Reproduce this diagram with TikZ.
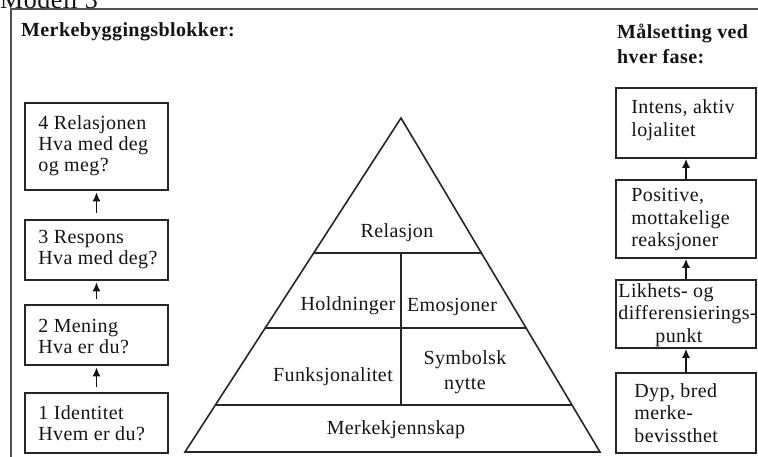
\documentclass[tikz,border=0pt]{standalone}
\usepackage{fontspec}
\setmainfont{Liberation Serif}[LetterSpace=2]
\usetikzlibrary{arrows.meta,calc}

\tikzset{
  frameline/.style={draw=black!68, line width=2pt},
  blk/.style={draw=black!85, line width=1.6pt},
  txt/.style={text=black!92, inner sep=0pt, font=\fontsize{20}{21}\selectfont},
  boxshape/.style={blk, rectangle, inner sep=0pt},
  lbox/.style={boxshape, minimum width=143pt},
  rbox/.style={boxshape, minimum width=140pt},
  ltext/.style={txt, anchor=west, align=left},
  rtext/.style={txt, anchor=west, align=left, font=\fontsize{20}{22.5}\selectfont},
  head/.style={txt, font=\fontsize{20}{25}\selectfont\bfseries},
  arr/.style={draw=black!92, line width=1.5pt, -{Latex[length=9pt,width=8pt]}}
}

\begin{document}
\begin{tikzpicture}[x=1pt,y=-1pt]
\useasboundingbox (0,0) rectangle (758,456);

% outer frame (only its top and left sides lie inside the page)
\draw[frameline] (11,470) -- (11,9) -- (770,9);
\node[txt, anchor=base west, font=\fontsize{26}{26}\selectfont] (modell) at (0,8) {Modell 3};

% headings
\node[head, anchor=west] (hleft) at (21,32) {Merkebyggingsblokker:};
\node[head, anchor=west, align=left] (hright) at (617,43.5) {Målsetting ved\\hver fase:};

% building blocks
\node[lbox, minimum height=87pt] (b4) at (96.5,146.5) {};
\node[lbox, minimum height=60pt] (b3) at (96.5,250) {};
\node[lbox, minimum height=60pt] (b2) at (96.5,335) {};
\node[lbox, minimum height=60pt] (b1) at (96.5,423) {};
\node[ltext] (t4) at ($(b4.west)+(14,-1)$) {4 Relasjonen\\Hva med deg\\og meg?};
\node[ltext] (t3) at ($(b3.west)+(14,0)$) {3 Respons\\Hva med deg?};
\node[ltext] (t2) at ($(b2.west)+(14,2)$) {2 Mening\\Hva er du?};
\node[ltext] (t1) at ($(b1.west)+(14,0)$) {1 Identitet\\Hvem er du?};

\draw[arr, shorten <=6pt, shorten >=1.5pt] (b3.north) -- (b4.south);
\draw[arr, shorten <=5pt, shorten >=1.5pt] (b2.north) -- (b3.south);
\draw[arr, shorten <=5pt, shorten >=1.5pt] (b1.north) -- (b2.south);

% goals for each phase
\node[rbox, minimum height=70pt] (ra) at (686,123) {};
\node[rbox, minimum height=78pt] (rb) at (686,219) {};
\node[rbox, minimum height=68pt] (rc) at (686,314) {};
\node[rbox, minimum height=80pt] (rd) at (686,413) {};
\node[rtext] (ta) at ($(ra.west)+(16,-3)$) {Intens, aktiv\\lojalitet};
\node[rtext] (tb) at ($(rb.west)+(16,1)$) {Positive,\\mottakelige\\reaksjoner};
\node[rtext] (tc) at ($(rc.west)+(3,1)$) {Likhets- og\\differensierings-\\\hspace*{37pt}punkt};
\node[rtext] (td) at ($(rd.west)+(19,0)$) {Dyp, bred\\merke-\\bevissthet};

\draw[arr] (rb.north) -- (ra.south);
\draw[arr] (rc.north) -- (rb.south);
\draw[arr] (rd.north) -- (rc.south);

% pyramid
\coordinate (apex) at (401,118);
\coordinate (bl) at (185,452);
\coordinate (br) at (600,452);
\coordinate (l1) at ($(apex)!0.4042!(bl)$);
\coordinate (r1) at ($(apex)!0.4042!(br)$);
\coordinate (l2) at ($(apex)!0.6287!(bl)$);
\coordinate (r2) at ($(apex)!0.6287!(br)$);
\coordinate (l3) at ($(apex)!0.8593!(bl)$);
\coordinate (r3) at ($(apex)!0.8593!(br)$);
\coordinate (mtop) at (401,253);
\coordinate (mbot) at (401,405);

\draw[blk, line join=miter] (apex) -- (br) -- (bl) -- cycle;
\draw[blk] (l1) -- (r1);
\draw[blk] (l2) -- (r2);
\draw[blk] (l3) -- (r3);
\draw[blk] (mtop) -- (mbot);

\node[txt] (rel) at (397,233) {Relasjon};
\node[txt] (hold) at (348,306) {Holdninger};
\node[txt] (emo) at (452,307) {Emosjoner};
\node[txt] (funk) at (333,377) {Funksjonalitet};
\node[txt, align=center, font=\fontsize{20}{24.5}\selectfont] (sym) at (465,372) {Symbolsk\\nytte};
\node[txt] (merk) at (396,430) {Merkekjennskap};
\end{tikzpicture}
\end{document}
